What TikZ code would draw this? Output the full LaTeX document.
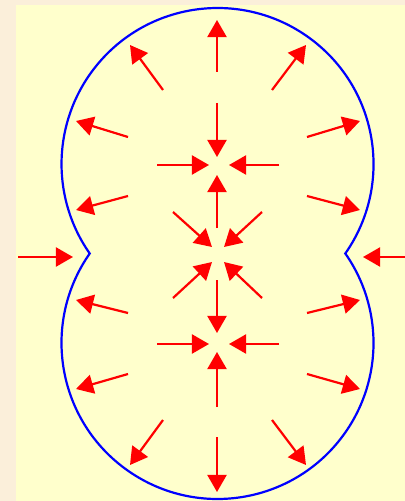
\documentclass[tikz,border=0pt]{standalone}
\usetikzlibrary{arrows.meta}
\definecolor{paper}{HTML}{FBEFDA}
\definecolor{pale}{HTML}{FFFFCC}
\definecolor{cellblue}{HTML}{0000FF}
\definecolor{force}{HTML}{FF0000}

\begin{document}
\begin{tikzpicture}[x=0.25mm,y=0.25mm,>={Triangle[length=4.3mm,width=4.8mm]},
  cell/.style={cellblue,line width=0.55mm},
  pull/.style={->,force,line width=0.55mm}]
  % background sheet
  \fill[paper] (0,0) rectangle (405,-501);
  \fill[pale] (16,-5) rectangle (405,-501);
  \useasboundingbox (0,0) rectangle (405,-501);
  % outline of the two lobes
  \draw[cell] (345.3,-253.5) arc[start angle=-35,end angle=215,radius=156]
    arc[start angle=145,end angle=395,radius=156] -- cycle;
  % outward arrows, upper lobe
  \draw[pull] (217,-72) -- (217,-20);
  \draw[pull] (163,-90) -- (130,-45);
  \draw[pull] (272,-90) -- (306,-45);
  \draw[pull] (128,-137) -- (76,-121);
  \draw[pull] (307,-137) -- (360,-121);
  \draw[pull] (128,-196) -- (76,-210);
  \draw[pull] (307,-196) -- (360,-210);
  % inward cross, upper
  \draw[pull] (217,-103) -- (217,-157);
  \draw[pull] (157,-165) -- (209,-165);
  \draw[pull] (279,-165) -- (229,-165);
  \draw[pull] (217,-228) -- (217,-175);
  % towards the waist
  \draw[pull] (173,-212) -- (212,-247);
  \draw[pull] (262,-212) -- (224,-247);
  \draw[pull] (173,-298) -- (212,-262);
  \draw[pull] (262,-298) -- (224,-262);
  % inward cross, lower
  \draw[pull] (217,-280) -- (217,-333);
  \draw[pull] (157,-344) -- (209,-344);
  \draw[pull] (279,-344) -- (229,-344);
  \draw[pull] (217,-407) -- (217,-352);
  % outward arrows, lower lobe
  \draw[pull] (128,-313) -- (76,-300);
  \draw[pull] (307,-313) -- (360,-300);
  \draw[pull] (128,-374) -- (76,-389);
  \draw[pull] (307,-374) -- (360,-389);
  \draw[pull] (163,-420) -- (130,-465);
  \draw[pull] (272,-420) -- (306,-465);
  \draw[pull] (217,-437) -- (217,-492);
  % squeeze at the waist
  \draw[pull] (18,-257) -- (73,-257);
  \draw[pull] (405,-257) -- (363,-257);
\end{tikzpicture}
\end{document}
